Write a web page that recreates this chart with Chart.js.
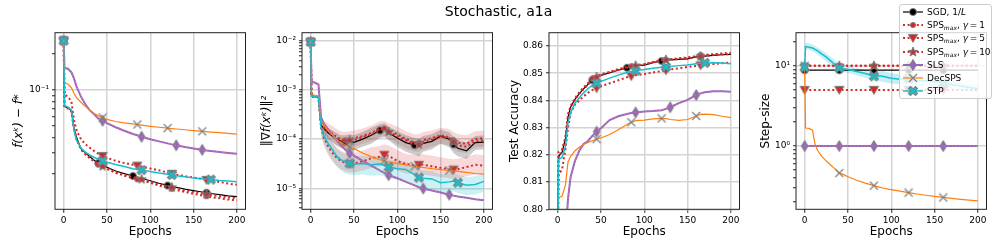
<!DOCTYPE html>
<html>
<head>
<meta charset="utf-8">
<script src="https://cdn.jsdelivr.net/npm/chart.js@4"></script>
<style>
  body { margin: 0; background: #fff; font-family: 'DejaVu Sans', sans-serif; }
  #wrap { position: relative; width: 997px; height: 249px; overflow: hidden; }
  #wrap canvas.plot { position: absolute; left: 0; top: 0; }
  #title { position: absolute; left: 0; top: 3px; width: 997px; text-align: center; font-size: 14px; line-height: 16px; z-index: 4; }
  #legend { position: absolute; left: 899px; top: 3.5px; width: 93px; height: 95.5px; box-sizing: border-box;
            background: rgba(255,255,255,0.8); border: 1px solid #cccccc; border-radius: 3px; padding-top: 0.5px; z-index: 5; }
  .row { display: flex; align-items: center; height: 13.3px; font-size: 9px; white-space: nowrap; }
  .row canvas { margin-left: 3px; margin-right: 4px; }
  .row sub { font-size: 6px; vertical-align: -2px; line-height: 0; }
</style>
</head>
<body>
<div id="wrap">
  <canvas class="plot" id="c1" width="997" height="249"></canvas>
  <canvas class="plot" id="c2" width="997" height="249"></canvas>
  <canvas class="plot" id="c3" width="997" height="249"></canvas>
  <canvas class="plot" id="c4" width="997" height="249"></canvas>
  <div id="title">Stochastic, a1a</div>
  <div id="legend"></div>
</div>
<script>
// ---- data ----
const EPOCHS = [0,1,5,9,12,15,20,25,30,35,40,45,50,60,70,80,85,90,100,110,120,125,130,140,150,160,165,170,180,190,200];
const BAND_EPOCHS = [12,15,20,25,30,35,40,45,50,60,70,80,85,90,100,110,120,125,130,140,150,160,165,170,180,190,200];
const STEP_BAND_EPOCHS = [1,5,9,12,15,20,25,30,35,40,45,50,60,70,80,85,90,100,110,120,125,130,140,150,160,165,170,180,190,200];
const CONST_EPOCHS = [0,40,80,120,160,200];
const EPOCH_TICKS = [0,50,100,150,200];

const LABELS = ['SGD, 1/L', 'SPSmax, γ=1', 'SPSmax, γ=5', 'SPSmax, γ=10', 'SLS', 'DecSPS', 'STP'];

// markers (epochs where a marker is drawn)
const MARK_SGD = [0,40,80,120,165];
const MARK_SPS1 = [0,40,85,125,165];
const MARK_SPS5 = [0,45,85,125,165];
const MARK_SPS10 = [0,45,90,125,165];
const MARK_SLS = [0,45,90,130,160];
const MARK_DEC = [0,45,85,120,160];
const MARK_STP = [0,45,90,125,170];
const STEP_MARKS = [0,40,80,120,160];

// panel 1: f(x^k) - f*
const LOSS_SGD = [0.257,0.073,0.071,0.067,0.048,0.040,0.0325,0.0300,0.0280,0.0262,0.0247,0.0236,0.0228,0.0212,0.0202,0.0193,0.0189,0.0184,0.0176,0.0168,0.0161,0.0158,0.0155,0.0150,0.0146,0.0142,0.0140,0.0138,0.0135,0.0132,0.0130];
const LOSS_SPS1 = [0.257,0.072,0.070,0.066,0.047,0.039,0.0320,0.0292,0.0272,0.0255,0.0240,0.0229,0.0221,0.0205,0.0194,0.0185,0.0181,0.0177,0.0169,0.0161,0.0154,0.0151,0.0148,0.0142,0.0137,0.0133,0.0131,0.0129,0.0126,0.0123,0.0121];
const LOSS_SPS5 = [0.257,0.0914,0.088,0.080,0.056,0.046,0.0390,0.0355,0.0332,0.0312,0.0295,0.0283,0.0273,0.0258,0.0247,0.0239,0.0235,0.0231,0.0223,0.0215,0.0206,0.0201,0.0198,0.0192,0.0187,0.0182,0.0179,0.0177,0.0172,0.0167,0.0163];
const LOSS_SPS10 = [0.257,0.073,0.071,0.067,0.047,0.039,0.0320,0.0295,0.0275,0.0258,0.0243,0.0232,0.0224,0.0208,0.0198,0.0189,0.0185,0.0181,0.0173,0.0165,0.0158,0.0155,0.0152,0.0147,0.0142,0.0138,0.0136,0.0134,0.0131,0.0128,0.0126];
const LOSS_SLS = [0.257,0.152,0.150,0.140,0.124,0.106,0.088,0.076,0.068,0.063,0.058,0.0555,0.0530,0.0490,0.0458,0.0431,0.0420,0.0409,0.0390,0.0374,0.0360,0.0353,0.0347,0.0336,0.0327,0.0318,0.0314,0.0311,0.0305,0.0300,0.0295];
const LOSS_DEC = [0.257,0.114,0.112,0.104,0.094,0.086,0.079,0.073,0.068,0.064,0.061,0.059,0.0570,0.0547,0.0533,0.0522,0.0516,0.0510,0.0499,0.0490,0.0482,0.0478,0.0474,0.0467,0.0460,0.0453,0.0450,0.0447,0.0442,0.0436,0.0430];
const LOSS_STP = [0.257,0.074,0.072,0.068,0.046,0.038,0.0330,0.0305,0.0289,0.0276,0.0266,0.0258,0.0251,0.0240,0.0231,0.0222,0.0219,0.0216,0.0210,0.0204,0.0199,0.0197,0.0194,0.0190,0.0186,0.0183,0.0181,0.0180,0.0177,0.0175,0.0173];

// panel 2: ||grad f(x^k)||^2
const GRAD_SGD = [0.0095,7.4e-4,7.3e-4,7.1e-4,1.9e-4,1.68e-4,1.35e-4,1.15e-4,1.0e-4,9.0e-5,8.7e-5,9.0e-5,8.6e-5,1.0e-4,1.2e-4,1.5e-4,1.6e-4,1.35e-4,1.05e-4,8.5e-5,7.5e-5,7.0e-5,8.2e-5,9.0e-5,1.15e-4,1.0e-4,7.8e-5,6.5e-5,5.8e-5,8.5e-5,8.7e-5];
const GRAD_SPS1 = [0.0095,7.4e-4,7.3e-4,7.1e-4,2.1e-4,1.8e-4,1.5e-4,1.3e-4,1.1e-4,1.0e-4,9.5e-5,1.0e-4,1.05e-4,1.15e-4,1.35e-4,1.6e-4,1.65e-4,1.5e-4,1.25e-4,1.0e-4,8.5e-5,8.5e-5,9.5e-5,1.05e-4,1.2e-4,1.1e-4,9.5e-5,8.5e-5,8.0e-5,1.0e-4,1.05e-4];
const GRAD_SPS5 = [0.0095,7.4e-4,7.3e-4,7.1e-4,1.7e-4,1.1e-4,7.2e-5,5.3e-5,4.2e-5,3.6e-5,3.3e-5,3.1e-5,3.2e-5,3.5e-5,4.1e-5,4.4e-5,4.8e-5,4.6e-5,3.6e-5,3.1e-5,2.95e-5,3.0e-5,3.0e-5,2.8e-5,2.6e-5,2.45e-5,2.4e-5,2.45e-5,2.7e-5,3.0e-5,2.9e-5];
const GRAD_SPS10 = [0.0095,7.4e-4,7.3e-4,7.1e-4,2.0e-4,1.7e-4,1.4e-4,1.2e-4,1.05e-4,9.5e-5,9.0e-5,9.5e-5,9.5e-5,1.1e-4,1.25e-4,1.55e-4,1.6e-4,1.4e-4,1.15e-4,9.5e-5,8.0e-5,7.8e-5,8.8e-5,9.8e-5,1.15e-4,1.05e-4,8.8e-5,7.5e-5,7.0e-5,9.0e-5,9.5e-5];
const GRAD_SLS = [0.0095,1.49e-3,1.4e-3,1.3e-3,2.8e-4,2.1e-4,1.6e-4,1.25e-4,9.5e-5,7.5e-5,6.1e-5,5.2e-5,4.6e-5,3.6e-5,2.9e-5,2.3e-5,2.05e-5,1.85e-5,1.6e-5,1.35e-5,1.15e-5,1.05e-5,9.9e-6,9.0e-6,8.2e-6,7.4e-6,7.1e-6,6.8e-6,6.4e-6,6.0e-6,5.7e-6];
const GRAD_DEC = [0.0095,8.0e-4,7.8e-4,7.5e-4,2.2e-4,1.9e-4,1.5e-4,1.22e-4,9.8e-5,8.5e-5,7.6e-5,7.0e-5,6.4e-5,5.2e-5,4.4e-5,3.8e-5,3.6e-5,3.45e-5,3.2e-5,3.0e-5,2.8e-5,2.7e-5,2.65e-5,2.5e-5,2.4e-5,2.3e-5,2.25e-5,2.2e-5,2.1e-5,2.0e-5,1.95e-5];
const GRAD_STP = [0.0095,7.4e-4,7.3e-4,7.1e-4,1.7e-4,1.2e-4,8.3e-5,6.1e-5,4.5e-5,3.8e-5,3.4e-5,3.2e-5,3.1e-5,3.2e-5,3.0e-5,3.1e-5,2.9e-5,2.7e-5,2.5e-5,2.4e-5,1.9e-5,1.65e-5,1.6e-5,1.55e-5,1.3e-5,1.35e-5,1.4e-5,1.3e-5,1.15e-5,1.2e-5,1.38e-5];
// shaded spread (on BAND_EPOCHS)
const GRAD_SGD_LO = [1.5e-4,1.25e-4,1.0e-4,8.5e-5,7.3e-5,6.5e-5,6.2e-5,6.5e-5,6.0e-5,7.0e-5,8.0e-5,1.05e-4,1.1e-4,9.5e-5,7.0e-5,5.5e-5,4.8e-5,4.5e-5,5.5e-5,6.2e-5,8.0e-5,6.8e-5,5.2e-5,4.5e-5,4.0e-5,6.0e-5,6.2e-5];
const GRAD_SGD_HI = [2.3e-4,2.1e-4,1.7e-4,1.5e-4,1.35e-4,1.2e-4,1.2e-4,1.25e-4,1.2e-4,1.4e-4,1.7e-4,2.0e-4,2.1e-4,1.8e-4,1.45e-4,1.2e-4,1.05e-4,1.0e-4,1.15e-4,1.25e-4,1.55e-4,1.4e-4,1.1e-4,9.5e-5,8.5e-5,1.15e-4,1.2e-4];
const GRAD_SPS1_LO = [1.6e-4,1.3e-4,1.05e-4,8.8e-5,7.5e-5,6.8e-5,6.5e-5,6.8e-5,7.0e-5,8.0e-5,9.0e-5,1.1e-4,1.15e-4,1.0e-4,8.0e-5,6.5e-5,5.5e-5,5.5e-5,6.2e-5,7.0e-5,8.0e-5,7.5e-5,6.2e-5,5.5e-5,5.2e-5,6.8e-5,7.0e-5];
const GRAD_SPS1_HI = [2.6e-4,2.4e-4,2.1e-4,1.85e-4,1.6e-4,1.45e-4,1.4e-4,1.45e-4,1.5e-4,1.65e-4,1.9e-4,2.3e-4,2.35e-4,2.1e-4,1.8e-4,1.45e-4,1.25e-4,1.25e-4,1.4e-4,1.5e-4,1.7e-4,1.6e-4,1.4e-4,1.25e-4,1.2e-4,1.45e-4,1.5e-4];
const GRAD_SPS5_LO = [1.2e-4,7.5e-5,4.8e-5,3.5e-5,2.8e-5,2.4e-5,2.2e-5,2.1e-5,2.1e-5,2.3e-5,2.6e-5,2.8e-5,3.0e-5,2.9e-5,2.3e-5,2.0e-5,1.9e-5,1.9e-5,1.9e-5,1.8e-5,1.7e-5,1.6e-5,1.55e-5,1.6e-5,1.75e-5,1.9e-5,1.85e-5];
const GRAD_SPS5_HI = [2.4e-4,1.7e-4,1.15e-4,8.5e-5,6.8e-5,5.8e-5,5.3e-5,5.0e-5,5.2e-5,5.8e-5,6.8e-5,7.2e-5,7.8e-5,7.5e-5,5.9e-5,5.0e-5,4.8e-5,4.9e-5,4.9e-5,4.6e-5,4.3e-5,4.0e-5,3.9e-5,4.0e-5,4.4e-5,4.9e-5,4.7e-5];
const GRAD_STP_LO = [1.2e-4,8.0e-5,5.2e-5,3.8e-5,2.8e-5,2.3e-5,2.0e-5,1.9e-5,1.85e-5,1.9e-5,1.8e-5,1.85e-5,1.75e-5,1.6e-5,1.5e-5,1.4e-5,1.15e-5,1.0e-5,9.8e-6,9.5e-6,8.0e-6,8.3e-6,8.6e-6,8.0e-6,7.2e-6,7.5e-6,8.5e-6];
const GRAD_STP_HI = [2.2e-4,1.6e-4,1.15e-4,8.5e-5,6.5e-5,5.5e-5,4.9e-5,4.6e-5,4.5e-5,4.6e-5,4.4e-5,4.5e-5,4.2e-5,3.9e-5,3.6e-5,3.5e-5,2.8e-5,2.4e-5,2.3e-5,2.25e-5,1.9e-5,2.0e-5,2.05e-5,1.9e-5,1.7e-5,1.75e-5,2.0e-5];

// panel 3: test accuracy
const ACC_SGD = [0.78,0.8196,0.8208,0.826,0.834,0.8376,0.8404,0.8425,0.8443,0.8459,0.8475,0.8486,0.8492,0.8502,0.8511,0.8520,0.8524,0.8527,0.8530,0.8539,0.8545,0.8547,0.8549,0.8551,0.8553,0.8560,0.8562,0.8563,0.8566,0.8568,0.8569];
const ACC_SPS1 = [0.78,0.8210,0.8220,0.8265,0.8350,0.8380,0.8408,0.8430,0.8448,0.8464,0.8480,0.8490,0.8496,0.8505,0.8515,0.8523,0.8526,0.8529,0.8533,0.8541,0.8547,0.8550,0.8552,0.8555,0.8558,0.8563,0.8566,0.8568,0.8570,0.8573,0.8575];
const ACC_SPS5 = [0.78,0.8129,0.8145,0.8220,0.8300,0.8355,0.8385,0.8400,0.8415,0.8428,0.8438,0.8445,0.8452,0.8463,0.8474,0.8485,0.8489,0.8493,0.8497,0.8503,0.8508,0.8511,0.8514,0.8518,0.8523,0.8527,0.8529,0.8531,0.8534,0.8537,0.8539];
const ACC_SPS10 = [0.78,0.8198,0.8210,0.8260,0.8345,0.8375,0.8403,0.8424,0.8442,0.8458,0.8474,0.8486,0.8493,0.8503,0.8512,0.8521,0.8525,0.8528,0.8532,0.8540,0.8546,0.8549,0.8550,0.8552,0.8555,0.8560,0.8562,0.8564,0.8567,0.8569,0.8570];
const ACC_SLS = [0.78,0.78,0.78,0.79,0.8040,0.8120,0.8178,0.8215,0.8240,0.8251,0.8270,0.8285,0.8298,0.8328,0.8342,0.8350,0.8354,0.8356,0.8359,0.8361,0.8364,0.8369,0.8375,0.8390,0.8402,0.8420,0.8426,0.8430,0.8434,0.8434,0.8432];
const ACC_DEC = [0.78,0.8044,0.8048,0.8090,0.8175,0.8195,0.8215,0.8228,0.8238,0.8246,0.8252,0.8258,0.8262,0.8275,0.8292,0.8312,0.8320,0.8326,0.8328,0.8332,0.8334,0.8333,0.8330,0.8327,0.8330,0.8343,0.8349,0.8350,0.8348,0.8342,0.8337];
const ACC_STP = [0.78,0.8184,0.8190,0.8230,0.8320,0.8355,0.8390,0.8410,0.8428,0.8443,0.8455,0.8463,0.8470,0.8482,0.8493,0.8503,0.8506,0.8509,0.8514,0.8518,0.8522,0.8523,0.8525,0.8528,0.8530,0.8535,0.8537,0.8538,0.8539,0.8538,0.8535];

// panel 4: step-size
const STEP_SGD = [8.8,8.8,8.8,8.8,8.8,8.8];
const STEP_SPS1 = [10,10,10,10,10,10];
const STEP_SPS5 = [5,5,5,5,5,5];
const STEP_SPS10 = [10,10,10,10,10,10];
const STEP_SLS = [1,1,1,1,1,1];
const STEP_DEC = [10,1.675,1.66,1.58,1.05,0.88,0.74,0.65,0.58,0.52,0.46,0.44,0.415,0.375,0.345,0.321,0.31,0.30,0.286,0.274,0.263,0.258,0.253,0.244,0.236,0.229,0.226,0.223,0.217,0.212,0.208];
const STEP_STP = [9.5,17.4,17.0,16.6,16.0,15.3,14.0,12.8,11.5,10.3,9.4,9.2,9.0,8.5,8.0,7.4,7.5,7.4,7.0,6.8,6.9,6.7,6.6,6.5,6.3,6.1,6.0,5.8,5.6,5.35,5.17];
const STEP_STP_LO = [16.0,15.8,15.2,14.5,13.8,12.5,11.3,10.2,9.2,8.5,8.3,8.1,7.6,7.1,6.5,6.4,6.3,6.0,5.9,5.9,5.8,5.7,5.6,5.5,5.4,5.3,5.15,5.0,4.8,4.7];
const STEP_STP_HI = [19.5,19.0,18.2,17.6,16.8,15.5,14.3,12.9,11.6,10.5,10.2,9.9,9.4,8.9,8.3,8.5,8.6,8.1,7.8,7.9,7.7,7.5,7.3,7.1,6.8,6.7,6.5,6.2,5.9,5.7];

// axis ticks
const LOSS_TICKS = [0.02,0.03,0.04,0.05,0.06,0.07,0.08,0.09,0.1,0.2];
const LOSS_MAJOR = [0.1];
const LOSS_LABELS = ['10⁻¹'];
const GRAD_TICKS = [4e-6,5e-6,6e-6,7e-6,8e-6,9e-6,1e-5,2e-5,3e-5,4e-5,5e-5,6e-5,7e-5,8e-5,9e-5,1e-4,2e-4,3e-4,4e-4,5e-4,6e-4,7e-4,8e-4,9e-4,1e-3,2e-3,3e-3,4e-3,5e-3,6e-3,7e-3,8e-3,9e-3,1e-2];
const GRAD_MAJOR = [1e-5,1e-4,1e-3,1e-2];
const GRAD_LABELS = ['10⁻⁵','10⁻⁴','10⁻³','10⁻²'];
const ACC_TICKS = [0.80,0.81,0.82,0.83,0.84,0.85,0.86];
const ACC_LABELS = ['0.80','0.81','0.82','0.83','0.84','0.85','0.86'];
const STEP_TICKS = [0.2,0.3,0.4,0.5,0.6,0.7,0.8,0.9,1,2,3,4,5,6,7,8,9,10,20];
const STEP_MAJOR = [1,10];
const STEP_LABELS = ['10⁰','10¹'];

// ---- styling ----
Chart.defaults.font.family = "'DejaVu Sans', sans-serif";
Chart.defaults.color = '#000';

const W = 997, H = 249;
const PLOT_W = 190.5, PLOT_TOP = 32.7, PLOT_BOTTOM = 209.3, PAD_BOTTOM = 10;
const GRID = '#d4d4d4';
const EDGE = '#7f7f7f';
const RED = '#d62728';

const FILL = { sgd: '#000000', sps1: RED, sps5: RED, sps10: '#b23a3a', sls: '#9467bd', dec: EDGE, stp: '#17becf' };

function drawMarker(g, kind, cx, cy) {
  g.save();
  g.translate(cx, cy);
  g.lineWidth = 1;
  g.strokeStyle = EDGE;
  g.fillStyle = FILL[kind];
  g.beginPath();
  if (kind === 'sgd') g.arc(0, 0, 3.5, 0, Math.PI * 2);
  else if (kind === 'sps1') g.arc(0, 0, 2.6, 0, Math.PI * 2);
  else if (kind === 'sps5') { g.moveTo(-4.6, -3.6); g.lineTo(4.6, -3.6); g.lineTo(0, 4.4); g.closePath(); }
  else if (kind === 'sps10') {
    for (let i = 0; i < 10; i++) {
      const r = i % 2 ? 2.1 : 5, a = -Math.PI / 2 + i * Math.PI / 5;
      g.lineTo(r * Math.cos(a), r * Math.sin(a));
    }
    g.closePath();
  }
  else if (kind === 'sls') { g.moveTo(0, -5.5); g.lineTo(3.3, 0); g.lineTo(0, 5.5); g.lineTo(-3.3, 0); g.closePath(); }
  else if (kind === 'dec') {
    g.moveTo(-4, -4); g.lineTo(4, 4); g.moveTo(-4, 4); g.lineTo(4, -4);
    g.lineWidth = 1.2; g.stroke(); g.restore(); return;
  }
  else if (kind === 'stp') {
    g.rotate(Math.PI / 4);
    const a = 1.5, L = 5;
    const p = [[a,L],[a,a],[L,a],[L,-a],[a,-a],[a,-L],[-a,-L],[-a,-a],[-L,-a],[-L,a],[-a,a],[-a,L]];
    p.forEach(([x, y], i) => i ? g.lineTo(x, y) : g.moveTo(x, y));
    g.closePath();
  }
  g.fill();
  g.stroke();
  g.restore();
}

function markerCanvas(kind) {
  const c = document.createElement('canvas');
  c.width = 14; c.height = 14;
  drawMarker(c.getContext('2d'), kind, 7, 7);
  return c;
}

const ST = {
  sgd:   { color: '#000000', width: 1.2, dash: [], marker: markerCanvas('sgd') },
  sps1:  { color: RED, width: 2, dash: [2, 2.6], marker: markerCanvas('sps1') },
  sps5:  { color: RED, width: 2, dash: [2, 2.6], marker: markerCanvas('sps5') },
  sps10: { color: RED, width: 2, dash: [2, 2.6], marker: markerCanvas('sps10') },
  sls:   { color: '#9467bd', width: 2, dash: [], marker: markerCanvas('sls') },
  dec:   { color: '#ff7f0e', width: 1.2, dash: [], marker: markerCanvas('dec') },
  stp:   { color: '#17becf', width: 1.5, dash: [], marker: markerCanvas('stp') }
};
const KEYS = ['sgd', 'sps1', 'sps5', 'sps10', 'sls', 'dec', 'stp'];

function series(key, xs, ys, marks, order) {
  const st = ST[key];
  const isM = c => marks.includes(xs[c.dataIndex]);
  return {
    data: xs.map((x, i) => ({ x, y: ys[i] })),
    borderColor: st.color, borderWidth: st.width, borderDash: st.dash,
    pointRadius: c => isM(c) ? 5 : 0,
    pointStyle: c => isM(c) ? st.marker : 'circle',
    pointBackgroundColor: st.color, pointBorderWidth: 0,
    fill: false, tension: 0, order
  };
}

// pink dotted overlay that runs along the SLS curve in the reference
function slsOverlay(xs, ys) {
  return {
    data: xs.map((x, i) => ({ x, y: ys[i] })),
    borderColor: 'rgba(236,120,170,0.9)', borderWidth: 1, borderDash: [1.5, 2],
    pointRadius: 0, fill: false, tension: 0, order: 2.5
  };
}

function band(xs, lo, hi, color) {
  return [
    { data: xs.map((x, i) => ({ x, y: hi[i] })), borderWidth: 0, borderColor: 'rgba(0,0,0,0)', pointRadius: 0, fill: '+1', backgroundColor: color, order: 50 },
    { data: xs.map((x, i) => ({ x, y: lo[i] })), borderWidth: 0, borderColor: 'rgba(0,0,0,0)', pointRadius: 0, fill: false, order: 50 }
  ];
}

function panel(xsFor, rows, marksFor) {
  const out = [];
  rows.forEach((ys, k) => {
    const key = KEYS[k];
    out.push(series(key, xsFor(key), ys, marksFor(key), 10 - k));
    if (key === 'sls') out.push(slsOverlay(xsFor(key), ys));
  });
  return out;
}

const MARKS = { sgd: MARK_SGD, sps1: MARK_SPS1, sps5: MARK_SPS5, sps10: MARK_SPS10, sls: MARK_SLS, dec: MARK_DEC, stp: MARK_STP };

const spines = {
  id: 'spines',
  afterDatasetsDraw(ch) {
    const a = ch.chartArea, g = ch.ctx;
    g.save();
    g.strokeStyle = '#222';
    g.lineWidth = 1;
    g.strokeRect(a.left, a.top, a.right - a.left, a.bottom - a.top);
    g.restore();
  }
};

function sameVal(a, b) { return Math.abs(a - b) <= Math.abs(b) * 1e-6; }

function makeChart(id, o) {
  const pl = o.titleX - 7.2;
  const right = o.left + PLOT_W;
  const majorIdx = v => o.yMajor.findIndex(m => sameVal(v, m));
  return new Chart(document.getElementById(id), {
    type: 'line',
    data: { datasets: o.datasets },
    plugins: [spines],
    options: {
      responsive: false, animation: false, events: [],
      layout: { padding: { left: pl, right: W - right, top: PLOT_TOP, bottom: PAD_BOTTOM } },
      plugins: { legend: { display: false }, tooltip: { enabled: false } },
      scales: {
        x: {
          type: 'linear', min: -10, max: 210,
          afterBuildTicks: s => { s.ticks = EPOCH_TICKS.map(v => ({ value: v })); },
          afterFit: s => { s.height = H - PAD_BOTTOM - PLOT_BOTTOM; s.paddingLeft = 0; s.paddingRight = 0; },
          ticks: { font: { size: 9 }, padding: 2, autoSkip: false, maxRotation: 0, callback: v => String(v) },
          grid: { color: GRID, lineWidth: 1.5, tickColor: '#222', tickWidth: 1, tickLength: 3.5 },
          border: { display: false },
          title: { display: true, text: 'Epochs', font: { size: 12 }, padding: 0 }
        },
        y: {
          type: o.yType, min: o.yMin, max: o.yMax,
          afterBuildTicks: s => { s.ticks = o.yTicks.map(v => ({ value: v })); },
          afterFit: s => { s.width = o.left - pl; s.paddingTop = 0; s.paddingBottom = 0; },
          ticks: {
            font: { size: 9 }, padding: 3, autoSkip: false,
            callback: v => { const i = majorIdx(v); return i < 0 ? '' : o.yLabels[i]; }
          },
          grid: {
            color: c => (c.tick && majorIdx(c.tick.value) >= 0) ? GRID : 'rgba(0,0,0,0)',
            lineWidth: 1.5, tickColor: '#222', tickWidth: 1, tickLength: 3
          },
          border: { display: false },
          title: { display: true, text: o.yTitle, font: { size: 12, style: o.italic ? 'italic' : 'normal' }, padding: 0 }
        }
      }
    }
  });
}

const LOSS_ROWS = [LOSS_SGD, LOSS_SPS1, LOSS_SPS5, LOSS_SPS10, LOSS_SLS, LOSS_DEC, LOSS_STP];
const GRAD_ROWS = [GRAD_SGD, GRAD_SPS1, GRAD_SPS5, GRAD_SPS10, GRAD_SLS, GRAD_DEC, GRAD_STP];
const ACC_ROWS = [ACC_SGD, ACC_SPS1, ACC_SPS5, ACC_SPS10, ACC_SLS, ACC_DEC, ACC_STP];
const STEP_ROWS = [STEP_SGD, STEP_SPS1, STEP_SPS5, STEP_SPS10, STEP_SLS, STEP_DEC, STEP_STP];

makeChart('c1', {
  left: 55, titleX: 19, yTitle: 'f(xᵏ) − f*', italic: true,
  yType: 'logarithmic', yMin: 0.0102, yMax: 0.299,
  yTicks: LOSS_TICKS, yMajor: LOSS_MAJOR, yLabels: LOSS_LABELS,
  datasets: panel(() => EPOCHS, LOSS_ROWS, k => MARKS[k])
});

makeChart('c2', {
  left: 302, titleX: 267, yTitle: '‖∇f(xᵏ)‖²', italic: true,
  yType: 'logarithmic', yMin: 3.74e-6, yMax: 0.01456,
  yTicks: GRAD_TICKS, yMajor: GRAD_MAJOR, yLabels: GRAD_LABELS,
  datasets: [
    ...band(BAND_EPOCHS, GRAD_SGD_LO, GRAD_SGD_HI, 'rgba(110,110,110,0.35)'),
    ...band(BAND_EPOCHS, GRAD_SPS1_LO, GRAD_SPS1_HI, 'rgba(214,39,40,0.18)'),
    ...band(BAND_EPOCHS, GRAD_SPS5_LO, GRAD_SPS5_HI, 'rgba(214,39,40,0.18)'),
    ...band(BAND_EPOCHS, GRAD_STP_LO, GRAD_STP_HI, 'rgba(23,190,207,0.22)'),
    ...panel(() => EPOCHS, GRAD_ROWS, k => MARKS[k])
  ]
});

makeChart('c3', {
  left: 549, titleX: 515, yTitle: 'Test Accuracy', italic: false,
  yType: 'linear', yMin: 0.80, yMax: 0.8649,
  yTicks: ACC_TICKS, yMajor: ACC_TICKS, yLabels: ACC_LABELS,
  datasets: panel(() => EPOCHS, ACC_ROWS, k => MARKS[k])
});

makeChart('c4', {
  left: 796, titleX: 766, yTitle: 'Step-size', italic: false,
  yType: 'logarithmic', yMin: 0.163, yMax: 25.8,
  yTicks: STEP_TICKS, yMajor: STEP_MAJOR, yLabels: STEP_LABELS,
  datasets: [
    ...band(STEP_BAND_EPOCHS, STEP_STP_LO, STEP_STP_HI, 'rgba(23,190,207,0.25)'),
    ...panel(k => (k === 'dec' || k === 'stp') ? EPOCHS : CONST_EPOCHS, STEP_ROWS, () => STEP_MARKS)
  ]
});

// ---- legend ----
const LEGEND_HTML = [
  'SGD, 1/<i>L</i>',
  'SPS<sub><i>max</i></sub>, <i>γ</i>&thinsp;=&thinsp;1',
  'SPS<sub><i>max</i></sub>, <i>γ</i>&thinsp;=&thinsp;5',
  'SPS<sub><i>max</i></sub>, <i>γ</i>&thinsp;=&thinsp;10',
  'SLS', 'DecSPS', 'STP'
];
const legend = document.getElementById('legend');
KEYS.forEach((key, i) => {
  const row = document.createElement('div');
  row.className = 'row';
  row.title = LABELS[i];
  const c = document.createElement('canvas');
  c.width = 20; c.height = 12;
  const g = c.getContext('2d');
  const st = ST[key];
  g.strokeStyle = st.color;
  g.lineWidth = st.width;
  g.setLineDash(st.dash);
  g.beginPath(); g.moveTo(0, 6); g.lineTo(20, 6); g.stroke();
  g.setLineDash([]);
  drawMarker(g, key, 10, 6);
  const span = document.createElement('span');
  span.innerHTML = LEGEND_HTML[i];
  row.appendChild(c);
  row.appendChild(span);
  legend.appendChild(row);
});
</script>
</body>
</html>
